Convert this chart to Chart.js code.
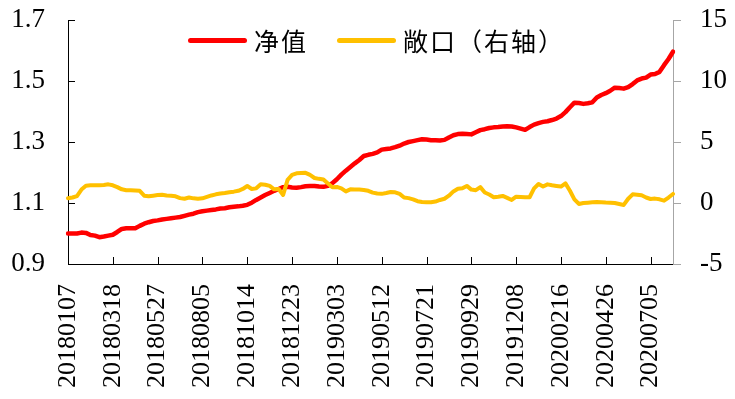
<!DOCTYPE html>
<html>
<head>
<meta charset="utf-8">
<script src="https://cdn.jsdelivr.net/npm/chart.js@4/dist/chart.umd.min.js"></script>
<style>
  body { margin: 0; background: #fff; }
  #wrap { position: relative; width: 735px; height: 399px; }
  #legend { position: absolute; left: 188px; top: 22px; display: flex; align-items: center;
    font-family: "Noto Sans CJK SC", sans-serif; font-size: 25px; color: #000; white-space: nowrap;
    text-spacing-trim: space-all; letter-spacing: 2px; }
  #legend .item { display: flex; align-items: center; margin-right: 29px; }
  #legend .swatch { width: 59px; height: 5px; border-radius: 3px; margin-right: 7px; }
</style>
</head>
<body>
<div id="wrap">
  <canvas id="navChart" width="735" height="399"></canvas>
  <div id="legend"></div>
</div>
<script>
'use strict'

// weekly dates, first Sunday of 2018 onward
const startDate = '20180107'
const weekCount = 136

// labels that show on the x axis (every 10th week)
const tickLabels = ['20180107', '20180318', '20180527', '20180805', '20181014', '20181223',
  '20190303', '20190512', '20190721', '20190929', '20191208', '20200216', '20200426', '20200705']

const navTicks = [0.9, 1.1, 1.3, 1.5, 1.7]
const exposureTicks = [-5, 0, 5, 10, 15]

// 净值
const navValues = [
  1.000, 1.000, 1.000, 1.003, 1.002, 0.995, 0.993, 0.988, 0.990, 0.993,
  0.996, 1.005, 1.015, 1.017, 1.017, 1.017, 1.025, 1.032, 1.037, 1.041,
  1.043, 1.046, 1.048, 1.050, 1.052, 1.054, 1.058, 1.062, 1.065, 1.070,
  1.073, 1.075, 1.077, 1.079, 1.082, 1.083, 1.086, 1.088, 1.089, 1.091,
  1.094, 1.101, 1.110, 1.118, 1.126, 1.133, 1.140, 1.146, 1.152, 1.153,
  1.151, 1.150, 1.152, 1.155, 1.156, 1.156, 1.154, 1.153, 1.156, 1.165,
  1.178, 1.193, 1.206, 1.218, 1.230, 1.241, 1.254, 1.258, 1.261, 1.266,
  1.275, 1.277, 1.279, 1.283, 1.288, 1.295, 1.300, 1.303, 1.306, 1.309,
  1.308, 1.306, 1.306, 1.305, 1.307, 1.315, 1.322, 1.326, 1.327, 1.326,
  1.325, 1.332, 1.339, 1.342, 1.346, 1.348, 1.349, 1.351, 1.352, 1.351,
  1.348, 1.344, 1.340, 1.349, 1.357, 1.362, 1.366, 1.368, 1.372, 1.377,
  1.385, 1.398, 1.414, 1.429, 1.428, 1.425, 1.427, 1.430, 1.446, 1.454,
  1.460, 1.468, 1.478, 1.477, 1.475, 1.480, 1.490, 1.502, 1.508, 1.511,
  1.521, 1.523, 1.530, 1.552, 1.572, 1.596
]

// 敞口（右轴）
const exposureValues = [
  0.39, 0.45, 0.57, 1.10, 1.42, 1.45, 1.45, 1.45, 1.48, 1.53,
  1.45, 1.30, 1.12, 1.05, 1.05, 1.03, 1.00, 0.60, 0.55, 0.60,
  0.65, 0.68, 0.62, 0.60, 0.55, 0.40, 0.35, 0.45, 0.38, 0.35,
  0.38, 0.50, 0.62, 0.71, 0.78, 0.82, 0.88, 0.93, 1.00, 1.15,
  1.39, 1.15, 1.20, 1.53, 1.50, 1.40, 1.12, 1.15, 0.66, 1.90,
  2.30, 2.43, 2.45, 2.47, 2.30, 2.05, 1.98, 1.92, 1.60, 1.29,
  1.32, 1.20, 0.95, 1.12, 1.10, 1.10, 1.07, 1.00, 0.85, 0.78,
  0.75, 0.82, 0.90, 0.88, 0.75, 0.45, 0.40, 0.30, 0.15, 0.08,
  0.06, 0.06, 0.12, 0.25, 0.35, 0.60, 0.95, 1.17, 1.20, 1.40,
  1.10, 1.05, 1.30, 0.86, 0.70, 0.47, 0.52, 0.58, 0.42, 0.25,
  0.52, 0.50, 0.48, 0.47, 1.20, 1.56, 1.35, 1.53, 1.45, 1.40,
  1.35, 1.61, 1.00, 0.30, -0.08, 0.00, 0.03, 0.06, 0.08, 0.06,
  0.04, 0.03, 0.00, -0.08, -0.16, 0.35, 0.71, 0.68, 0.63, 0.45,
  0.33, 0.36, 0.30, 0.19, 0.45, 0.74
]

const weeks = []
const d0 = new Date(Date.UTC(+startDate.slice(0, 4), +startDate.slice(4, 6) - 1, +startDate.slice(6, 8)))
for (let i = 0; i < weekCount; i++) {
  const d = new Date(d0.getTime() + i * 7 * 86400000)
  weeks.push(String(d.getUTCFullYear()) + String(d.getUTCMonth() + 1).padStart(2, '0') +
    String(d.getUTCDate()).padStart(2, '0'))
}

const serif = '"Liberation Serif", "Times New Roman", serif'

// pin the axis boxes so the plot lands where the excel one does
const fixBox = (w, h) => s => {
  if (w) s.width = w
  if (h) s.height = h
  s.paddingLeft = s.paddingRight = s.paddingTop = s.paddingBottom = 0
}

// excel style tick marks that point into the plot on the left and bottom axes
const innerTicks = {
  id: 'innerTicks',
  afterDatasetsDraw (chart) {
    const { ctx, chartArea, scales } = chart
    ctx.save()
    ctx.strokeStyle = '#000'
    ctx.lineWidth = 1
    ctx.beginPath()
    tickLabels.forEach(t => {
      const x = Math.round(scales.x.getPixelForValue(weeks.indexOf(t))) + 0.5
      ctx.moveTo(x, chartArea.bottom)
      ctx.lineTo(x, chartArea.bottom - 7)
    })
    navTicks.forEach(v => {
      const y = Math.round(scales.y.getPixelForValue(v)) + 0.5
      ctx.moveTo(chartArea.left, y)
      ctx.lineTo(chartArea.left + 7, y)
    })
    ctx.stroke()
    ctx.restore()
  }
}

const ctx = document.getElementById('navChart').getContext('2d')
const chart = new Chart(ctx, {
  type: 'line',
  data: {
    labels: weeks,
    datasets: [{
      label: '净值',
      data: navValues,
      yAxisID: 'y',
      borderColor: '#FF0000',
      backgroundColor: '#FF0000',
      borderWidth: 4.5,
      order: 2
    }, {
      label: '敞口（右轴）',
      data: exposureValues,
      yAxisID: 'y1',
      borderColor: '#FFC000',
      backgroundColor: '#FFC000',
      borderWidth: 4,
      order: 1
    }]
  },
  options: {
    responsive: false,
    animation: false,
    layout: { padding: { left: 8, right: 6, top: 20, bottom: 10 } },
    elements: {
      point: { radius: 0 },
      line: { tension: 0, borderCapStyle: 'round', borderJoinStyle: 'round' }
    },
    plugins: { legend: { display: false }, tooltip: { enabled: false } },
    scales: {
      x: {
        offset: false,
        grid: { display: false, drawTicks: false },
        border: { display: true, color: '#000', width: 1 },
        afterFit: fixBox(0, 125),
        ticks: {
          autoSkip: false,
          minRotation: 90,
          maxRotation: 90,
          padding: 20,
          color: '#000',
          font: { family: serif, size: 26 },
          callback: function (value) {
            const label = this.getLabelForValue(value)
            return tickLabels.includes(label) ? label : null
          }
        }
      },
      y: {
        position: 'left',
        min: 0.9,
        max: 1.7,
        grid: { display: false, drawTicks: false },
        border: { display: true, color: '#000', width: 1 },
        afterBuildTicks: axis => { axis.ticks = navTicks.map(v => ({ value: v })) },
        afterFit: fixBox(60, 0),
        ticks: {
          padding: 23,
          color: '#000',
          font: { family: serif, size: 27 },
          callback: v => v.toFixed(1)
        }
      },
      y1: {
        position: 'right',
        min: -5,
        max: 15,
        grid: { drawOnChartArea: false, drawTicks: true, tickLength: 8, color: '#A6A6A6' },
        border: { display: true, color: '#A6A6A6', width: 1 },
        afterBuildTicks: axis => { axis.ticks = exposureTicks.map(v => ({ value: v })) },
        afterFit: fixBox(56, 0),
        ticks: {
          padding: 19,
          color: '#000',
          font: { family: serif, size: 27 }
        }
      }
    }
  },
  plugins: [innerTicks]
})

// legend drawn as html over the top of the plot
const legend = document.getElementById('legend')
chart.data.datasets.forEach(ds => {
  const item = document.createElement('div')
  item.className = 'item'
  const sw = document.createElement('span')
  sw.className = 'swatch'
  sw.style.background = ds.borderColor
  const txt = document.createElement('span')
  txt.textContent = ds.label
  item.appendChild(sw)
  item.appendChild(txt)
  legend.appendChild(item)
})
</script>
</body>
</html>
